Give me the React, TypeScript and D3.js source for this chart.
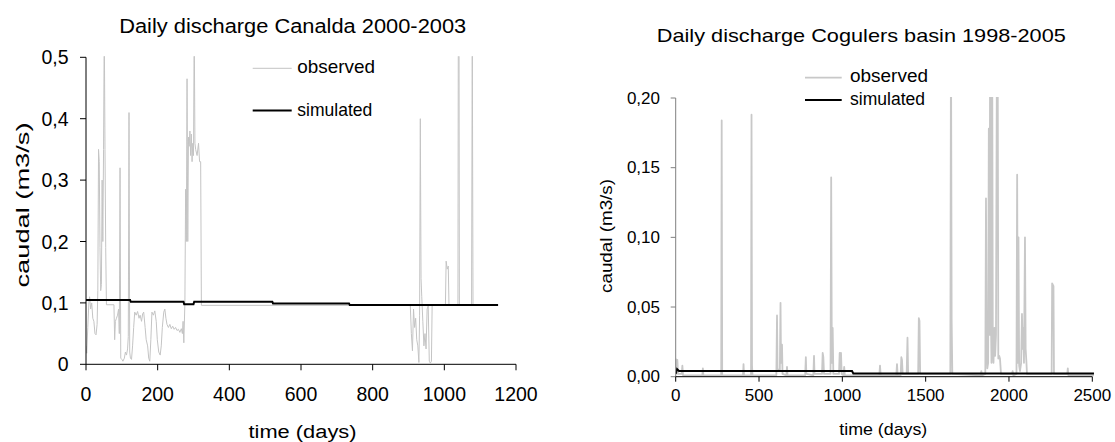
import React from "react";
import * as d3 from "d3";

// ---------- Data: Canalda (left) ----------
const canaldaObserved: [number, number][] = [
  [0, 0.03], [2, 0.018], [5, 0.06], [8, 0.1], [10, 0.11], [13, 0.09], [16, 0.1], [19, 0.075],
  [22, 0.07], [25, 0.05], [28, 0.048], [31, 0.065], [33, 0.12], [35, 0.35], [37, 0.33], [39, 0.19],
  [41, 0.12], [43, 0.13], [45, 0.3], [47, 0.2], [49, 0.35], [51, 0.55], [53, 0.35], [55, 0.19],
  [57, 0.097], [78, 0.097], [80, 0.04], [82, 0.07], [85, 0.075], [88, 0.08], [91, 0.09], [93, 0.05],
  [95, 0.32], [97, 0.01], [100, 0.008], [103, 0.005], [107, 0.01], [110, 0.02], [113, 0.015],
  [116, 0.025], [118, 0.045], [120, 0.41], [122, 0.02], [124, 0.01], [127, 0.008], [130, 0.03],
  [133, 0.06], [136, 0.085], [140, 0.08], [144, 0.086], [148, 0.075], [151, 0.08], [155, 0.07],
  [158, 0.082], [161, 0.085], [165, 0.06], [168, 0.04], [172, 0.03], [175, 0.01], [178, 0.005],
  [181, 0.04], [184, 0.085], [188, 0.08], [192, 0.087], [196, 0.07], [199, 0.04], [203, 0.02],
  [207, 0.015], [210, 0.03], [213, 0.06], [217, 0.085], [220, 0.09], [223, 0.075], [226, 0.065],
  [230, 0.06], [234, 0.065], [238, 0.058], [242, 0.062], [246, 0.057], [250, 0.06], [254, 0.055],
  [258, 0.057], [262, 0.052], [266, 0.058], [269, 0.05], [271, 0.07], [273, 0.035], [276, 0.1],
  [278, 0.285], [280, 0.2], [282, 0.465], [284, 0.2], [286, 0.37], [288, 0.355], [290, 0.38],
  [292, 0.34], [294, 0.375], [296, 0.33], [298, 0.36], [300, 0.34], [302, 0.55], [304, 0.36],
  [306, 0.35], [310, 0.34], [314, 0.36], [317, 0.33], [320, 0.33], [322, 0.096], [905, 0.096],
  [908, 0.05], [911, 0.022], [914, 0.09], [917, 0.06], [920, 0.075], [923, 0.04], [926, 0.03],
  [929, 0.003], [931, 0.08], [933, 0.4], [935, 0.14], [937, 0.11], [940, 0.07], [943, 0.03],
  [946, 0.05], [949, 0.025], [952, 0.09], [955, 0.095], [958, 0.005], [961, 0.002], [964, 0.005],
  [966, 0.096], [1003, 0.096], [1005, 0.168], [1008, 0.155], [1011, 0.16], [1013, 0.096],
  [1038, 0.096], [1039, 0.55], [1041, 0.55], [1042, 0.096], [1076, 0.096], [1078, 0.55],
  [1080, 0.096], [1150, 0.096],
];
const canaldaSimulated: [number, number][] = [
  [0, 0.1046], [123, 0.1046], [125, 0.1018], [272, 0.1018], [274, 0.098], [300, 0.098],
  [302, 0.1018], [520, 0.1018], [522, 0.0991], [734, 0.0991], [736, 0.0964], [1150, 0.0964],
];
const canaldaXTicks = [0, 200, 400, 600, 800, 1000, 1200];
const canaldaYTicks = [0, 0.1, 0.2, 0.3, 0.4, 0.5];

// ---------- Data: Cogulers (right) ----------
const cogulersObserved: [number, number][] = [
  [0, 0.013], [4, 0.004], [10, 0.012], [14, 0.002], [36, 0.002], [40, 0.008], [44, 0.001],
  [100, 0.001], [160, 0.001], [163, 0.006], [166, 0.001], [273, 0.001], [276, 0.184], [279, 0.001],
  [404, 0.001], [407, 0.009], [410, 0.001], [452, 0.001], [455, 0.188], [458, 0.008], [461, 0.001],
  [604, 0.001], [608, 0.044], [611, 0.005], [625, 0.005], [629, 0.053], [632, 0.01], [638, 0.023],
  [641, 0.002], [664, 0.001], [668, 0.007], [671, 0.001], [777, 0.001], [781, 0.014], [784, 0.002],
  [826, 0.001], [830, 0.015], [833, 0.002], [878, 0.002], [882, 0.017], [886, 0.014], [890, 0.002],
  [929, 0.002], [933, 0.143], [937, 0.01], [942, 0.035], [946, 0.002], [980, 0.002], [984, 0.017],
  [988, 0.005], [992, 0.017], [996, 0.002], [1007, 0.001], [1011, 0.007], [1015, 0.001],
  [1222, 0.001], [1226, 0.008], [1230, 0.001], [1324, 0.001], [1328, 0.009], [1332, 0.001],
  [1350, 0.001], [1354, 0.014], [1358, 0.012], [1362, 0.002], [1386, 0.002], [1391, 0.028],
  [1395, 0.002], [1455, 0.002], [1459, 0.042], [1463, 0.04], [1467, 0.002], [1648, 0.002],
  [1652, 0.25], [1656, 0.04], [1660, 0.002], [1830, 0.001], [1834, 0.004], [1838, 0.001],
  [1858, 0.002], [1862, 0.128], [1866, 0.02], [1870, 0.006], [1875, 0.01], [1879, 0.178],
  [1883, 0.03], [1887, 0.25], [1891, 0.05], [1895, 0.01], [1899, 0.25], [1903, 0.02],
  [1907, 0.01], [1913, 0.035], [1917, 0.015], [1922, 0.03], [1928, 0.25], [1932, 0.25],
  [1936, 0.013], [1941, 0.015], [1946, 0.013], [1952, 0.002], [2018, 0.002], [2022, 0.004],
  [2026, 0.001], [2045, 0.002], [2049, 0.145], [2053, 0.01], [2057, 0.1], [2061, 0.008],
  [2066, 0.004], [2073, 0.01], [2078, 0.045], [2082, 0.02], [2086, 0.035], [2090, 0.01],
  [2096, 0.1], [2100, 0.02], [2104, 0.012], [2108, 0.002], [2256, 0.002], [2259, 0.067],
  [2267, 0.065], [2270, 0.002], [2350, 0.002], [2353, 0.006], [2356, 0.001], [2510, 0.001],
];
const cogulersSimulated: [number, number][] = [
  [0, 0.002], [8, 0.0055], [20, 0.0041], [1058, 0.0041], [1066, 0.0023], [2510, 0.0023],
];
const cogulersXTicks = [0, 500, 1000, 1500, 2000, 2500];
const cogulersYTicks = [0, 0.05, 0.1, 0.15, 0.2];

const FONT = "'Liberation Sans', Arial, sans-serif";

type PanelProps = {
  id: string;
  observed: [number, number][];
  simulated: [number, number][];
  xTicks: number[];
  yTicks: number[];
  xDomain: [number, number];
  yDomain: [number, number];
  xRange: [number, number];
  yRange: [number, number];
  yFormat: (v: number) => string;
  tickFont: number;
  yTickRight: number;
  xTickBaseline: number;
  tickLen: number;
  yAxisColor: string;
  obsWidth: number;
  obsColor: string;
  title: string;
  titleX: number;
  titleY: number;
  titleFont: number;
  titleLen: number;
  xLabelX: number;
  xLabelY: number;
  xLabelFont: number;
  xLabelLen: number;
  yLabelX: number;
  yLabelY: number;
  yLabelFont: number;
  yLabelLen: number;
  legX1: number;
  legX2: number;
  legTextX: number;
  legObsY: number;
  legSimY: number;
  legFont: number;
  legObsLen: number;
  legSimLen: number;
};

function Panel(p: PanelProps) {
  const x = d3.scaleLinear().domain(p.xDomain).range(p.xRange);
  const y = d3.scaleLinear().domain(p.yDomain).range(p.yRange);
  const line = d3
    .line<[number, number]>()
    .x((d) => x(d[0]))
    .y((d) => y(d[1]));
  const [x0, x1] = p.xRange;
  const [yb, yt] = p.yRange;
  return (
    <g fontFamily={FONT}>
      <defs>
        <clipPath id={p.id}>
          <rect x={x0} y={yt - 1} width={x1 - x0 + 2} height={yb - yt + 4} />
        </clipPath>
      </defs>
      <text
        x={p.titleX}
        y={p.titleY}
        fontSize={p.titleFont}
        textAnchor="middle"
        textLength={p.titleLen}
        lengthAdjust="spacingAndGlyphs"
        fill="#000"
      >
        {p.title}
      </text>
      <g clipPath={`url(#${p.id})`}>
        <path d={line(p.observed) || ""} fill="none" stroke={p.obsColor} strokeWidth={p.obsWidth} strokeLinejoin="round" />
        <path d={line(p.simulated) || ""} fill="none" stroke="#000" strokeWidth={2} />
      </g>
      {/* y axis */}
      <line x1={x0} x2={x0} y1={yt} y2={yb} stroke={p.yAxisColor} strokeWidth={1} />
      {p.yTicks.map((t) => (
        <g key={"y" + t}>
          <line x1={x0 - p.tickLen} x2={x0} y1={y(t)} y2={y(t)} stroke={p.yAxisColor} />
          <text
            x={p.yTickRight}
            y={y(t)}
            fontSize={p.tickFont}
            textAnchor="end"
            dominantBaseline="central"
            fill="#000"
          >
            {p.yFormat(t)}
          </text>
        </g>
      ))}
      {/* x axis */}
      <line x1={x0} x2={x1} y1={yb} y2={yb} stroke="#000" strokeWidth={1} />
      {p.xTicks.map((t) => (
        <g key={"x" + t}>
          <line x1={x(t)} x2={x(t)} y1={yb} y2={yb + p.tickLen} stroke="#000" />
          <text x={x(t)} y={p.xTickBaseline} fontSize={p.tickFont} textAnchor="middle" fill="#000">
            {String(t)}
          </text>
        </g>
      ))}
      <text
        x={p.xLabelX}
        y={p.xLabelY}
        fontSize={p.xLabelFont}
        textAnchor="middle"
        textLength={p.xLabelLen}
        lengthAdjust="spacingAndGlyphs"
        fill="#000"
      >
        time (days)
      </text>
      <text
        transform={`translate(${p.yLabelX},${p.yLabelY}) rotate(-90)`}
        fontSize={p.yLabelFont}
        textAnchor="middle"
        textLength={p.yLabelLen}
        lengthAdjust="spacingAndGlyphs"
        fill="#000"
      >
        caudal (m3/s)
      </text>
      {/* legend */}
      <line x1={p.legX1} x2={p.legX2} y1={p.legObsY} y2={p.legObsY} stroke={p.obsColor} strokeWidth={p.obsWidth} />
      <text
        x={p.legTextX}
        y={p.legObsY + 4.5}
        fontSize={p.legFont}
        textLength={p.legObsLen}
        lengthAdjust="spacingAndGlyphs"
        fill="#000"
      >
        observed
      </text>
      <line x1={p.legX1} x2={p.legX2} y1={p.legSimY} y2={p.legSimY} stroke="#000" strokeWidth={2} />
      <text
        x={p.legTextX}
        y={p.legSimY + 5}
        fontSize={p.legFont}
        textLength={p.legSimLen}
        lengthAdjust="spacingAndGlyphs"
        fill="#000"
      >
        simulated
      </text>
    </g>
  );
}

const fmt1 = (v: number) => (v === 0 ? "0" : d3.format(".1f")(v).replace(".", ","));
const fmt2 = (v: number) => d3.format(".2f")(v).replace(".", ",");

export default function App() {
  return (
    <svg
      width={1115}
      height={442}
      style={{ position: "absolute", left: 0, top: 0, background: "#fff" }}
    >
      <rect width={1115} height={442} fill="#fff" />
      <Panel
        id="clipL"
        observed={canaldaObserved}
        simulated={canaldaSimulated}
        xTicks={canaldaXTicks}
        yTicks={canaldaYTicks}
        xDomain={[0, 1200]}
        yDomain={[0, 0.5]}
        xRange={[86, 516]}
        yRange={[364.3, 57.3]}
        yFormat={fmt1}
        tickFont={19.5}
        yTickRight={68.5}
        xTickBaseline={400.7}
        tickLen={6}
        yAxisColor="#000"
        obsWidth={1}
        obsColor="#c4c4c4"
        title="Daily discharge Canalda 2000-2003"
        titleX={292.7}
        titleY={33.3}
        titleFont={19.5}
        titleLen={347}
        xLabelX={302.5}
        xLabelY={437.7}
        xLabelFont={18}
        xLabelLen={108}
        yLabelX={28.5}
        yLabelY={205}
        yLabelFont={18.5}
        yLabelLen={165}
        legX1={252.7}
        legX2={291.7}
        legTextX={297.3}
        legObsY={68.3}
        legSimY={110.5}
        legFont={19}
        legObsLen={77.7}
        legSimLen={75}
      />
      <Panel
        id="clipR"
        observed={cogulersObserved}
        simulated={cogulersSimulated}
        xTicks={cogulersXTicks}
        yTicks={cogulersYTicks}
        xDomain={[0, 2500]}
        yDomain={[0, 0.2]}
        xRange={[675.7, 1092.3]}
        yRange={[376.7, 98]}
        yFormat={fmt2}
        tickFont={17}
        yTickRight={660}
        xTickBaseline={401}
        tickLen={5}
        yAxisColor="#808080"
        obsWidth={1.8}
        obsColor="#c8c8c8"
        title="Daily discharge Cogulers basin 1998-2005"
        titleX={861.3}
        titleY={41.7}
        titleFont={18.6}
        titleLen={409}
        xLabelX={883.3}
        xLabelY={435}
        xLabelFont={17}
        xLabelLen={88}
        yLabelX={611.7}
        yLabelY={236}
        yLabelFont={16}
        yLabelLen={114}
        legX1={805}
        legX2={841.7}
        legTextX={850}
        legObsY={77.7}
        legSimY={100}
        legFont={17.5}
        legObsLen={78}
        legSimLen={75}
      />
    </svg>
  );
}
